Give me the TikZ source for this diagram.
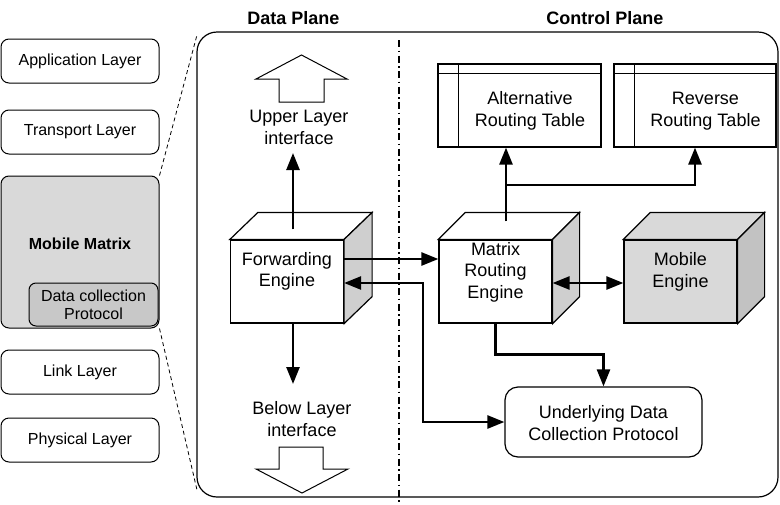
\documentclass[tikz,border=0pt]{standalone}
\usepackage{fontspec}
\setmainfont{Liberation Sans}
\usetikzlibrary{arrows.meta,calc}
\definecolor{sidegray}{HTML}{CFCFCF}
\definecolor{mmgray}{HTML}{D9D9D9}
\definecolor{dcpgray}{HTML}{C8C8C8}
\definecolor{mobside}{HTML}{C2C2C2}
\tikzset{
  layerbox/.style={draw, line width=1pt, rounded corners=8pt, minimum width=158pt, minimum height=44pt, inner sep=0pt},
  smalltxt/.style={font=\fontsize{16}{18.5}\selectfont, align=center, inner sep=0pt},
  bigtxt/.style={font=\fontsize{18}{21.5}\selectfont, align=center, inner sep=0pt},
  titletxt/.style={font=\fontsize{18}{21}\selectfont\bfseries, inner sep=0pt},
  face/.style={draw, line width=1.2pt, minimum width=113pt, minimum height=83pt, inner sep=0pt},
  tablebox/.style={draw, line width=1.2pt, minimum width=163pt, minimum height=83pt, inner sep=0pt},
  arr/.style={line width=2.5pt, -{Triangle[length=17pt,width=13pt]}},
  darr/.style={line width=2.5pt, {Triangle[length=17pt,width=13pt]}-{Triangle[length=17pt,width=13pt]}},
  blockarrow/.style={draw, line width=1pt, fill=white, line join=miter},
  thinline/.style={line width=1.2pt}
}
\begin{document}
\begin{tikzpicture}[x=1pt,y=-1pt]
\useasboundingbox (0,0) rectangle (780,504);

% left protocol stack
\node[layerbox] (app) at (80,61) {};
\node[smalltxt] (appt) at (80,61) {Application Layer};
\node[layerbox] (trans) at (80,132) {};
\node[smalltxt] (transt) at (80,132) {Transport Layer};
\node[layerbox, fill=mmgray, minimum height=152pt] (mm) at (80,252) {};
\node[smalltxt, font=\fontsize{16}{18.5}\selectfont\bfseries] (mmt) at (80,244) {Mobile Matrix};
\node[draw, line width=1pt, rounded corners=7pt, fill=dcpgray, minimum width=129pt, minimum height=43pt, inner sep=0pt] (dcp) at (93.5,304.5) {};
\node[smalltxt] (dcpt) at (93.5,305) {Data collection\\Protocol};
\node[layerbox] (link) at (80,372) {};
\node[smalltxt] (linkt) at (80,372) {Link Layer};
\node[layerbox] (phys) at (80,440) {};
\node[smalltxt] (physt) at (80,440) {Physical Layer};

% main container
\node[draw, line width=1.2pt, rounded corners=20pt, minimum width=581pt, minimum height=465pt, inner sep=0pt] (main) at (487.5,264.5) {};
\coordinate (zoomtop) at (197,35);
\coordinate (zoombot) at (197,490);
\draw[line width=0.8pt, dash pattern=on 4pt off 3pt] (mm.north east) -- (zoomtop);
\draw[line width=0.8pt, dash pattern=on 4pt off 3pt] (mm.south east) -- (zoombot);

% plane divider
\coordinate (divtop) at (399,40);
\coordinate (divbot) at (399,504);
\draw[line width=1.5pt, dash pattern=on 7pt off 3.5pt on 1.5pt off 3.5pt] (divtop) -- (divbot);

% titles
\node[titletxt] (dptitle) at (293.5,18) {Data Plane};
\node[titletxt] (cptitle) at (605,18) {Control Plane};

% upper / below layer block arrows
\draw[blockarrow] (301.5,55) -- (347,79) -- (324,79) -- (324,102) -- (279,102) -- (279,79) -- (256,79) -- cycle;
\node[bigtxt] (upt) at (299,127.5) {Upper Layer\\interface};
\node[bigtxt] (bot) at (302,419) {Below Layer\\interface};
\draw[blockarrow] (279,447) -- (323,447) -- (323,469) -- (348,469) -- (302,493) -- (256,469) -- (279,469) -- cycle;

% cubes
\node[face, fill=white] (fwd) at (287,281.5) {};
\draw[thinline, fill=white, line join=miter] (fwd.north west) -- ++(28,-27) -- ($(fwd.north east)+(28,-27)$) -- (fwd.north east) -- cycle;
\draw[thinline, fill=sidegray, line join=miter] (fwd.north east) -- ++(28,-27) -- ($(fwd.south east)+(28,-27)$) -- (fwd.south east) -- cycle;
\node[bigtxt] (fwdt) at (287,271.5) {Forwarding\\Engine};

\node[face, fill=white] (mre) at (495.5,281.5) {};
\draw[thinline, fill=white, line join=miter] (mre.north west) -- ++(27,-27) -- ($(mre.north east)+(27,-27)$) -- (mre.north east) -- cycle;
\draw[thinline, fill=sidegray, line join=miter] (mre.north east) -- ++(27,-27) -- ($(mre.south east)+(27,-27)$) -- (mre.south east) -- cycle;
\node[bigtxt] (mret) at (495.5,272) {Matrix\\Routing\\Engine};

\node[face, fill=mmgray] (mob) at (680.5,281.5) {};
\draw[thinline, fill=mmgray, line join=miter] (mob.north west) -- ++(27,-27) -- ($(mob.north east)+(27,-27)$) -- (mob.north east) -- cycle;
\draw[thinline, fill=mobside, line join=miter] (mob.north east) -- ++(27,-27) -- ($(mob.south east)+(27,-27)$) -- (mob.south east) -- cycle;
\node[bigtxt] (mobt) at (680.5,272) {Mobile\\Engine};

% routing tables
\node[tablebox] (alt) at (519.5,105.5) {};
\draw[thinline] ($(alt.north west)+(0,10)$) -- ($(alt.north east)+(0,10)$);
\draw[thinline] ($(alt.north west)+(21,0)$) -- ($(alt.south west)+(21,0)$);
\node[bigtxt] (altt) at (530,111) {Alternative\\Routing Table};
\node[tablebox, minimum width=162pt] (rev) at (695,105.5) {};
\draw[thinline] ($(rev.north west)+(0,10)$) -- ($(rev.north east)+(0,10)$);
\draw[thinline] ($(rev.north west)+(21,0)$) -- ($(rev.south west)+(21,0)$);
\node[bigtxt] (revt) at (705.5,111) {Reverse\\Routing Table};

% underlying protocol
\node[draw, line width=1.2pt, rounded corners=13pt, minimum width=197pt, minimum height=70pt, inner sep=0pt] (udc) at (603.5,422) {};
\node[bigtxt] (udct) at (603.5,423) {Underlying Data\\Collection Protocol};

% connectors
\coordinate (upin) at (293,153);
\coordinate (downout) at (293,384);
\draw[arr] ($(fwd.north)+(6,-10)$) -- (upin);
\draw[arr] ($(fwd.south)+(6,0)$) -- (downout);
\draw[arr] ([yshift=22.5pt]fwd.east) -- ([yshift=22.5pt]mre.west);
\draw[darr] ([yshift=-1.5pt]fwd.east) -- ++(79,0) |- (udc.west);
\draw[darr] ([yshift=-1.5pt]mre.east) -- ([yshift=-1.5pt]mob.west);
\draw[arr] (mre.south) -- ++(0,31) -| (udc.north);
\coordinate (mtop) at ($(mre.north)+(10.5,-18)$);
\coordinate (jn) at (506,185);
\draw[arr] (mtop) -- (mtop |- alt.south);
\draw[arr] (jn) -| (rev.south);
\end{tikzpicture}
\end{document}
